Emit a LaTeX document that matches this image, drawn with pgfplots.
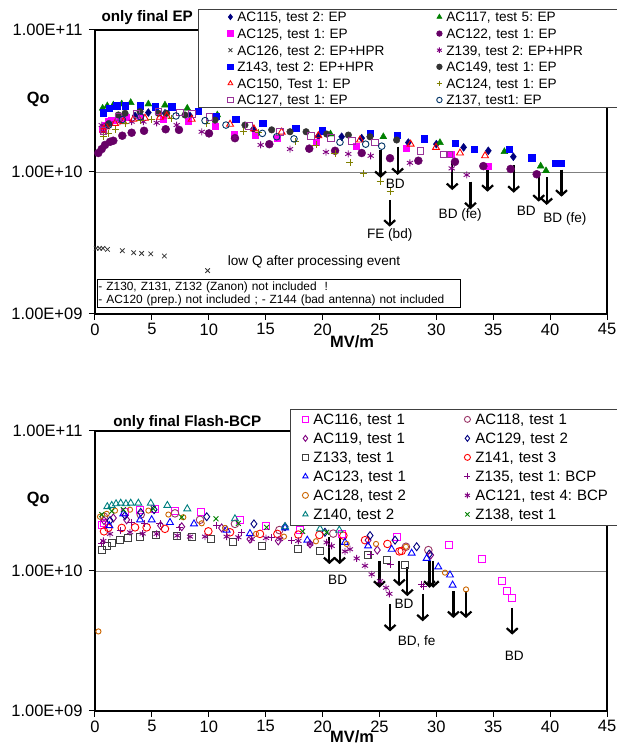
\documentclass[border=0pt]{standalone}
\usepackage{fontspec}
\setmainfont{Liberation Sans}
\usepackage{pgfplots}
\pgfplotsset{compat=1.18}
\usetikzlibrary{arrows.meta}
\frenchspacing

\definecolor{cNavy}{HTML}{000080}
\definecolor{cGreen}{HTML}{008000}
\definecolor{cMag}{HTML}{FF00FF}
\definecolor{cPlum}{HTML}{660066}
\definecolor{cDark}{HTML}{333333}
\definecolor{cPurple}{HTML}{800080}
\definecolor{cBlue}{HTML}{0000FF}
\definecolor{cRed}{HTML}{FF0000}
\definecolor{cOlive}{HTML}{808000}
\definecolor{cLila}{HTML}{993399}
\definecolor{cSteel}{HTML}{003366}
\definecolor{cRose}{HTML}{993366}
\definecolor{cGray}{HTML}{404040}
\definecolor{cOrange}{HTML}{CC6600}
\definecolor{cTeal}{HTML}{008080}

\tikzset{bd/.style={-{Straight Barb[length=5pt,width=11pt]}, line width=2.2pt, black}}

\begin{document}
\frenchspacing
\begin{tikzpicture}
\path[use as bounding box, fill=white] (0,0) rectangle (616pt,755pt);

% ---------- top panel: final EP ----------
\begin{axis}[at={(95pt,441pt)}, anchor=south west,
  scale only axis, width=512pt, height=284pt,
  xmin=0, xmax=45, ymode=log, ymin=1e9, ymax=1e11,
  xtick={0,5,...,45}, xticklabels={0,5,10,15,20,25,30,35,40,45},
  ytick={1e9,1e10,1e11}, yticklabels={1.00E+09,1.00E+10,1.00E+11},
  minor tick num=0, yminorticks=false,
  tick align=outside, tick pos=left, major tick length=6pt,
  tick style={black, line width=1pt},
  axis line style={black, line width=1.6pt},
  ymajorgrids, grid style={gray, line width=0.8pt},
  tick label style={font=\fontsize{16.5}{18}\selectfont},
  yticklabel style={xshift=-3pt},
  clip=false,
  legend columns=2,
  legend image code/.code={\path[draw=none, fill=none] (-7pt,0pt) rectangle (7pt,9pt);
    \draw[#1, mark size=2.7pt] plot coordinates {(0pt,4.9pt)};},
  legend style={at={(0.2012,1.0739)}, anchor=north west,
    font=\fontsize{13.6}{15}\selectfont, draw=black!75, line width=0.8pt,
    inner xsep=25pt, inner ysep=1pt, row sep=3.6pt, column sep=0pt,
    nodes={inner sep=0pt, anchor=base west, text height=11.5pt, text depth=1.5pt},
    /tikz/column 2/.style={text width=195pt},
    /tikz/column 4/.style={text width=190pt}},
]
\addplot[only marks, mark=diamond*, mark size=4pt, color=cNavy] coordinates {
 (2.55,2.39e10) (3.52,2.48e10) (4.69,2.62e10) (6.15,2.59e10) (8.35,2.48e10)
 (13.91,2.00e10) (19.63,1.79e10) (21.68,1.77e10) (23.44,1.73e10) (27.54,1.61e10)
 (30.0,1.57e10) (32.4,1.49e10) (34.57,1.41e10) (36.77,1.28e10)};
\addlegendentry{AC115, test 2: EP}
\addplot[only marks, mark=triangle*, mark size=4pt, color=cGreen] coordinates {
 (0.67,2.81e10) (1.08,2.92e10) (1.61,2.96e10) (2.35,3.01e10) (3.14,3.08e10)
 (4.69,3.01e10) (6.15,2.96e10) (8.11,2.81e10) (10.75,2.52e10) (20.7,1.85e10)
 (25.34,1.77e10) (30.32,1.61e10) (35.98,1.39e10) (39.17,1.10e10) (39.64,1.02e10)};
\addlegendentry{AC117, test 5: EP}
\addplot[only marks, mark=square*, mark size=3pt, color=cMag] coordinates {
 (0.6,2.00e10) (0.9,2.14e10) (1.17,2.26e10) (1.4,2.30e10) (1.61,2.32e10) (2.2,2.39e10)
 (2.78,2.45e10) (3.96,2.43e10) (6.0,2.35e10) (8.2,2.26e10) (10.55,2.11e10)
 (12.22,1.85e10) (14.06,1.82e10) (16.03,1.73e10) (19.42,1.63e10) (23.0,1.52e10)
 (27.33,1.47e10) (31.35,1.34e10) (34.57,1.10e10)};
\addlegendentry{AC125, test 1: EP}
\addplot[only marks, mark=*, mark size=4pt, color=cPlum] coordinates {
 (0.29,1.36e10) (0.59,1.45e10) (0.88,1.55e10) (1.32,1.63e10) (1.61,1.66e10)
 (2.40,1.80e10) (3.22,1.89e10) (4.31,1.95e10) (6.21,2.00e10) (7.38,1.98e10)
 (10.02,1.87e10) (12.3,1.73e10) (15.32,1.57e10) (18.83,1.46e10) (21.1,1.41e10)
 (23.44,1.36e10) (25.93,1.25e10) (28.42,1.20e10) (31.64,1.18e10) (34.13,1.10e10)
 (36.53,1.05e10) (38.82,9.64e9)};
\addlegendentry{AC122, test 1: EP}
\addplot[only marks, mark=x, mark size=3.2pt, color=cDark, line width=0.8pt] coordinates {
 (0.1,2.90e9) (0.4,2.90e9) (0.7,2.90e9) (1.1,2.85e9) (2.4,2.79e9) (3.4,2.70e9)
 (4.1,2.67e9) (4.9,2.65e9) (6.1,2.56e9) (9.9,2.02e9)};
\addlegendentry{AC126, test 2: EP+HPR}
\addplot[only marks, mark=asterisk, mark size=3.5pt, color=cPurple, line width=0.9pt] coordinates {
 (0.59,2.14e10) (0.73,1.92e10) (1.32,2.20e10) (2.2,2.26e10) (3.22,2.26e10)
 (4.25,2.26e10) (5.42,2.22e10) (7.18,2.14e10) (9.38,1.92e10) (12.3,1.75e10)
 (14.56,1.55e10) (17.14,1.45e10) (20.3,1.38e10) (22.26,1.34e10) (24.23,1.30e10)
 (27.68,1.16e10) (31.35,1.06e10) (32.67,9.53e9)};
\addlegendentry{Z139, test 2: EP+HPR}
\addplot[only marks, mark=square*, mark size=3.2pt, color=cBlue] coordinates {
 (0.73,2.62e10) (1.26,2.81e10) (1.90,2.92e10) (2.64,2.93e10) (3.96,2.92e10)
 (5.27,2.88e10) (6.74,2.88e10) (9.08,2.69e10) (10.63,2.48e10) (12.37,2.35e10)
 (14.74,2.20e10) (17.64,2.03e10) (19.98,1.95e10) (24.17,1.87e10) (26.57,1.82e10)
 (28.92,1.71e10) (31.67,1.59e10) (33.31,1.45e10) (36.39,1.45e10) (38.38,1.26e10)
 (40.43,1.15e10) (41.0,1.15e10)};
\addlegendentry{Z143, test 2: EP+HPR}
\addplot[only marks, mark=*, mark size=3.3pt, color=cDark] coordinates {
 (1.2,2.19e10) (2.05,2.52e10) (2.64,2.59e10) (3.96,2.66e10) (5.57,2.59e10)
 (6.3,2.59e10) (7.91,2.52e10) (10.55,2.32e10) (13.18,2.14e10) (15.53,1.98e10)
 (17.14,1.92e10) (18.55,1.92e10) (20.36,1.85e10) (22.27,1.82e10) (24.17,1.77e10)
 (26.51,1.68e10)};
\addlegendentry{AC149, test 1: EP}
\addplot[only marks, mark=triangle, mark size=4pt, color=cRed, line width=0.9pt] coordinates {
 (0.73,1.98e10) (0.97,2.08e10) (1.76,2.20e10) (2.49,2.26e10) (3.37,2.35e10)
 (4.39,2.39e10) (5.71,2.43e10) (6.3,2.48e10) (8.5,2.35e10) (11.87,2.17e10)
 (13.97,2.01e10) (16.4,1.91e10) (19.63,1.80e10) (23.29,1.68e10) (27.74,1.57e10)
 (29.97,1.49e10) (32.08,1.36e10) (34.28,1.30e10)};
\addlegendentry{AC150, Test 1: EP}
\addplot[only marks, mark=+, mark size=3.5pt, color=cOlive, line width=0.9pt] coordinates {
 (0.73,1.77e10) (1.17,1.87e10) (1.76,2.00e10) (2.64,2.20e10) (3.96,2.30e10)
 (4.98,2.35e10) (6.74,2.39e10) (9.82,2.20e10) (13.04,1.92e10) (14.35,1.89e10)
 (17.58,1.63e10) (19.42,1.55e10) (21.09,1.36e10) (22.41,1.16e10) (23.58,9.79e9)
 (25.05,8.55e9) (25.93,7.26e9)};
\addlegendentry{AC124, test 1: EP}
\addplot[only marks, mark=square, mark size=3.3pt, color=cLila, line width=0.9pt] coordinates {
 (0.73,1.95e10) (2.05,2.45e10) (3.66,2.56e10) (5.57,2.66e10) (7.47,2.62e10)
 (8.5,2.56e10) (10.05,2.45e10) (13.53,2.11e10) (16.26,1.92e10) (18.96,1.79e10)
 (20.72,1.73e10) (22.56,1.66e10) (24.61,1.61e10) (28.62,1.41e10) (30.67,1.33e10)
 (31.14,1.33e10)};
\addlegendentry{AC127, test 1: EP}
\addplot[only marks, mark=o, mark size=3.3pt, color=cSteel, line width=0.9pt] coordinates {
 (1.2,2.14e10) (2.4,2.34e10) (4.0,2.45e10) (7.12,2.48e10) (9.67,2.30e10)
 (11.51,2.14e10) (14.71,1.87e10) (15.97,1.77e10) (17.49,1.71e10) (21.53,1.62e10)
 (23.79,1.57e10) (25.2,1.52e10)};
\addlegendentry{Z137, test1: EP}

\draw[bd] (axis cs:25.1,1.43e10) -- (axis cs:25.1,9.08e9);
\draw[bd] (axis cs:26.6,1.51e10) -- (axis cs:26.6,9.53e9);
\draw[bd] (axis cs:25.9,6.35e9) -- (axis cs:25.9,4.12e9);
\draw[bd] (axis cs:31.4,1.18e10) -- (axis cs:31.4,7.46e9);
\draw[bd] (axis cs:33.0,8.55e9) -- (axis cs:33.0,5.46e9);
\draw[bd] (axis cs:34.5,1.12e10) -- (axis cs:34.5,7.26e9);
\draw[bd] (axis cs:36.8,1.12e10) -- (axis cs:36.8,7.14e9);
\draw[bd] (axis cs:39.0,9.79e9) -- (axis cs:39.0,6.18e9);
\draw[bd] (axis cs:39.7,9.18e9) -- (axis cs:39.7,5.86e9);
\draw[bd] (axis cs:41.0,1.04e10) -- (axis cs:41.0,6.70e9);

\node[font=\fontsize{13.6}{15}\selectfont] at (axis cs:26.4,8.32e9) {BD};
\node[font=\fontsize{13.6}{15}\selectfont] at (axis cs:25.9,3.60e9) {FE (bd)};
\node[font=\fontsize{13.6}{15}\selectfont] at (axis cs:32.1,4.98e9) {BD (fe)};
\node[font=\fontsize{13.6}{15}\selectfont] at (axis cs:37.9,5.33e9) {BD};
\node[font=\fontsize{13.6}{15}\selectfont] at (axis cs:41.3,4.67e9) {BD (fe)};
\node[font=\fontsize{13.6}{15}\selectfont] at (axis cs:19.25,2.31e9) {low Q after processing event};
\node[draw=black, line width=0.8pt, anchor=north west, inner xsep=1.5pt, inner ysep=2pt,
  text width=360pt, align=left, font=\fontsize{11.9}{13.4}\selectfont]
  at (rel axis cs:0.003,0.1232)
  {- Z130, Z131, Z132 (Zanon) not included\ \ !\\- AC120 (prep.) not included ; - Z144 (bad antenna) not included};
\node[anchor=west, font=\bfseries\fontsize{15.2}{17}\selectfont] at (rel axis cs:0.006,1.042) {only final EP};
\node[font=\bfseries\fontsize{16.3}{18}\selectfont] at (rel axis cs:-0.111,0.754) {Qo};
\node[font=\bfseries\fontsize{16.4}{18}\selectfont] at (rel axis cs:0.502,-0.0986) {MV/m};
\end{axis}

% ---------- bottom panel: final Flash-BCP ----------
\begin{axis}[at={(95pt,44pt)}, anchor=south west,
  scale only axis, width=512pt, height=280pt,
  xmin=0, xmax=45, ymode=log, ymin=1e9, ymax=1e11,
  xtick={0,5,...,45}, xticklabels={0,5,10,15,20,25,30,35,40,45},
  ytick={1e9,1e10,1e11}, yticklabels={1.00E+09,1.00E+10,1.00E+11},
  minor tick num=0, yminorticks=false,
  tick align=outside, tick pos=left, major tick length=6pt,
  tick style={black, line width=1pt},
  axis line style={black, line width=1.6pt},
  ymajorgrids, grid style={gray, line width=0.8pt},
  tick label style={font=\fontsize{16.5}{18}\selectfont},
  yticklabel style={xshift=-3pt},
  clip=false,
  legend columns=2,
  legend image code/.code={\path[draw=none, fill=none] (-8pt,0pt) rectangle (8pt,10pt);
    \draw[#1, mark size=3pt] plot coordinates {(0pt,5.4pt)};},
  legend style={at={(0.3809,1.0786)}, anchor=north west,
    font=\fontsize{15}{17}\selectfont, draw=black!75, line width=0.8pt,
    inner xsep=7pt, inner ysep=3pt, row sep=3.6pt, column sep=0pt,
    nodes={inner sep=0pt, anchor=base west, text height=12.4pt, text depth=3pt},
    /tikz/column 2/.style={text width=146pt},
    /tikz/column 4/.style={text width=170pt}},
]
\addplot[only marks, mark=square, mark size=3.5pt, color=cMag, line width=0.9pt] coordinates {
 (0.59,2.14e10) (0.79,2.22e10) (2.64,2.62e10) (3.96,2.75e10) (5.27,2.78e10)
 (7.03,2.70e10) (9.29,2.62e10) (12.74,2.32e10) (15.03,2.11e10) (18.02,1.96e10)
 (21.68,1.85e10) (26.51,1.76e10) (31.14,1.54e10) (33.98,1.21e10) (35.74,8.47e9)
 (36.24,7.26e9) (36.67,6.43e9)};
\addlegendentry{AC116, test 1}
\addplot[only marks, mark=o, mark size=3.8pt, color=cRose, line width=0.9pt] coordinates {
 (0.79,2.44e10) (4.02,2.53e10) (7.03,2.58e10) (9.23,2.32e10) (12.3,2.17e10)
 (16.2,1.96e10) (20.94,1.85e10) (27.33,1.49e10) (29.3,1.41e10)};
\addlegendentry{AC118, test 1}
\addplot[only marks, mark=diamond, mark size=4pt, color=cPurple, line width=0.9pt] coordinates {
 (0.79,2.29e10) (1.61,2.39e10) (2.78,2.32e10) (5.77,2.11e10) (7.62,2.07e10)
 (11.13,2.03e10) (13.62,1.69e10) (16.11,1.64e10) (18.9,1.56e10) (24.0,1.66e10)
 (24.81,1.41e10) (29.5,1.30e10)};
\addlegendentry{AC119, test 1}
\addplot[only marks, mark=diamond, mark size=4pt, color=cNavy, line width=0.9pt] coordinates {
 (1.32,2.29e10) (2.64,2.49e10) (4.02,2.62e10) (5.19,2.74e10) (9.82,2.44e10)
 (13.97,2.17e10) (16.7,2.07e10) (20.21,1.89e10) (24.17,1.79e10) (26.37,1.66e10)
 (28.27,1.49e10) (29.38,1.32e10)};
\addlegendentry{AC129, test 2}
\addplot[only marks, mark=square, mark size=3.5pt, color=cGray, line width=0.9pt] coordinates {
 (0.59,1.41e10) (1.03,1.51e10) (1.47,1.59e10) (2.2,1.67e10) (2.93,1.72e10)
 (3.96,1.76e10) (5.36,1.81e10) (7.18,1.79e10) (8.5,1.74e10) (10.17,1.69e10)
 (12.16,1.60e10) (14.65,1.51e10) (17.87,1.43e10) (19.78,1.39e10) (24.0,1.30e10)
 (25.7,1.19e10) (27.25,1.10e10)};
\addlegendentry{Z133, test 1}
\addplot[only marks, mark=o, mark size=3.8pt, color=cRed, line width=0.9pt] coordinates {
 (0.79,1.92e10) (1.17,2.03e10) (2.35,2.03e10) (3.52,2.05e10) (4.54,2.05e10)
 (6.15,2.00e10) (9.96,1.92e10) (11.87,1.89e10) (14.5,1.84e10) (16.03,1.84e10)
 (17.87,1.82e10) (19.72,1.81e10) (21.83,1.79e10) (23.73,1.66e10) (25.7,1.56e10)
 (26.75,1.38e10) (26.95,1.39e10)};
\addlegendentry{Z141, test 3}
\addplot[only marks, mark=triangle, mark size=4pt, color=cBlue, line width=0.9pt] coordinates {
 (1.26,2.11e10) (2.49,2.56e10) (3.96,2.32e10) (4.98,2.32e10) (6.59,2.22e10)
 (8.70,2.17e10) (11.57,1.96e10) (13.62,1.85e10) (16.7,2.03e10) (18.66,1.66e10)
 (21.97,1.60e10) (24.0,1.51e10) (26.07,1.43e10) (27.83,1.34e10) (29.15,1.23e10)
 (30.17,1.07e10) (31.2,9.36e9) (31.43,7.93e9)};
\addlegendentry{AC123, test 1}
\addplot[only marks, mark=+, mark size=3.5pt, color=cPurple, line width=0.9pt] coordinates {
 (0.6,1.58e10) (2.2,1.94e10) (3.22,2.22e10) (4.39,2.17e10) (5.71,2.19e10)
 (7.41,2.05e10) (10.7,2.11e10) (12.9,1.89e10) (15.53,1.74e10) (17.29,1.66e10)
 (24.17,1.32e10) (25.93,1.12e10) (28.71,8.02e9) (28.86,7.80e9)};
\addlegendentry{Z135, test 1: BCP}
\addplot[only marks, mark=o, mark size=2.6pt, color=cOrange, line width=0.9pt] coordinates {
 (0.3,3.70e9) (0.44,2.44e10) (1.03,2.56e10) (1.76,2.70e10) (3.08,2.74e10)
 (4.69,2.70e10) (6.45,2.53e10) (7.76,2.42e10) (9.38,2.19e10) (11.43,2.03e10)
 (14.15,1.84e10) (16.61,1.76e10) (19.42,1.63e10) (22.12,1.56e10) (24.7,1.56e10)
 (27.33,1.49e10) (30.76,9.73e9) (32.61,7.38e9)};
\addlegendentry{AC128, test 2}
\addplot[only marks, mark=asterisk, mark size=3.5pt, color=cPurple, line width=0.9pt] coordinates {
 (0.73,1.64e10) (1.32,1.84e10) (3.08,1.89e10) (4.19,1.85e10) (5.42,1.84e10)
 (7.23,1.79e10) (8.35,1.76e10) (9.67,1.76e10) (11.57,1.76e10) (12.6,1.74e10)
 (13.77,1.69e10) (15.03,1.72e10) (16.26,1.69e10) (17.87,1.64e10) (18.9,1.56e10)
 (20.36,1.60e10) (20.8,1.51e10) (21.97,1.38e10) (22.41,1.43e10) (23.0,1.23e10)
 (23.73,1.09e10) (24.32,9.46e9) (25.05,8.47e9) (25.58,7.59e9) (25.87,6.87e9)};
\addlegendentry{AC121, test 4: BCP}
\addplot[only marks, mark=triangle, mark size=4pt, color=cTeal, line width=0.9pt] coordinates {
 (1.08,2.88e10) (1.47,2.94e10) (1.85,3.02e10) (2.26,3.05e10) (2.72,3.02e10)
 (3.14,3.05e10) (3.81,3.05e10) (4.9,3.05e10) (6.36,2.94e10) (8.11,2.78e10)
 (12.3,2.36e10) (16.7,2.07e10) (19.78,2.00e10) (21.47,1.96e10)};
\addlegendentry{Z140, test 2}
\addplot[only marks, mark=x, mark size=3.5pt, color=cGreen, line width=0.9pt] coordinates {
 (0.59,2.53e10) (1.47,2.67e10) (2.49,2.74e10) (5.12,2.78e10) (7.62,2.42e10)
 (10.63,2.36e10) (12.6,2.19e10) (15.09,2.05e10) (18.25,1.92e10) (20.36,1.89e10)};
\addlegendentry{Z138, test 1}

\draw[bd] (axis cs:20.6,1.74e10) -- (axis cs:20.6,1.12e10);
\draw[bd] (axis cs:21.5,1.74e10) -- (axis cs:21.5,1.12e10);
\draw[bd] (axis cs:25.0,1.18e10) -- (axis cs:25.0,7.59e9);
\draw[bd] (axis cs:26.75,1.18e10) -- (axis cs:26.75,7.80e9);
\draw[bd] (axis cs:27.45,1.06e10) -- (axis cs:27.45,6.61e9);
\draw[bd] (axis cs:25.93,5.82e9) -- (axis cs:25.93,3.70e9);
\draw[bd] (axis cs:28.8,6.87e9) -- (axis cs:28.8,4.37e9);
\draw[bd] (axis cs:29.4,1.18e10) -- (axis cs:29.4,7.59e9);
\draw[bd] (axis cs:29.73,1.18e10) -- (axis cs:29.73,7.59e9);
\draw[bd] (axis cs:31.5,7.18e9) -- (axis cs:31.5,4.61e9);
\draw[bd] (axis cs:32.6,7.18e9) -- (axis cs:32.6,4.61e9);
\draw[bd] (axis cs:36.67,5.45e9) -- (axis cs:36.67,3.51e9);

\node[font=\fontsize{13.6}{15}\selectfont] at (axis cs:21.33,8.71e9) {BD};
\node[font=\fontsize{13.6}{15}\selectfont] at (axis cs:27.16,5.82e9) {BD};
\node[font=\fontsize{13.6}{15}\selectfont] at (axis cs:28.27,3.13e9) {BD, fe};
\node[font=\fontsize{13.6}{15}\selectfont] at (axis cs:36.85,2.49e9) {BD};
\node[anchor=west, font=\bfseries\fontsize{15.2}{17}\selectfont] at (rel axis cs:0.029,1.0286) {only final Flash-BCP};
\node[font=\bfseries\fontsize{16.3}{18}\selectfont] at (rel axis cs:-0.111,0.754) {Qo};
\node[font=\bfseries\fontsize{16.4}{18}\selectfont] at (rel axis cs:0.502,-0.093) {MV/m};
\end{axis}
\end{tikzpicture}
\end{document}
